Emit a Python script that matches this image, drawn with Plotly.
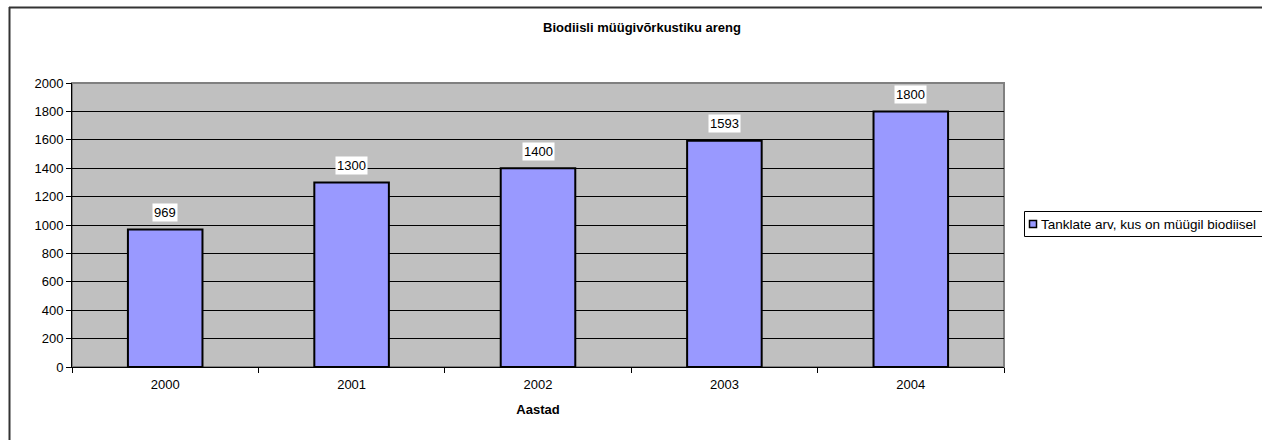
"""
Biodiisli müügivõrkustiku areng: tanklate arv aastate kaupa (tulpdiagramm).
"""
import plotly.graph_objects as go

YEARS = ['2000', '2001', '2002', '2003', '2004']
STATIONS = [969, 1300, 1400, 1593, 1800]
SERIES_NAME = 'Tanklate arv, kus on müügil biodiisel'
Y_TICKS = [0, 200, 400, 600, 800, 1000, 1200, 1400, 1600, 1800, 2000]

BAR_COLOR = '#9999FF'
W, H = 1262, 440
L, R, T, B = 72, 1004, 83, 367
FONT = 'Liberation Sans, Arial, sans-serif'
FS = 13


def px_x(p):
    return (p - L) / (R - L)


def px_y(p):
    return (B - p) / (B - T)


fig = go.Figure(go.Bar(
    x=YEARS, y=STATIONS,
    name=SERIES_NAME,
    width=0.4,
    marker=dict(color=BAR_COLOR, line=dict(color='black', width=2)),
    showlegend=False,
))

# data labels (white boxes above the bars)
for i, v in enumerate(STATIONS):
    fig.add_annotation(
        x=i, y=v, text=str(v), showarrow=False,
        yshift=17, bgcolor='white', borderpad=1,
        font=dict(family=FONT, size=FS, color='black'),
    )

# hand-made legend (Excel style: small square close to the text)
fig.add_annotation(
    xref='paper', yref='paper', x=px_x(1039), y=px_y(224),
    xanchor='left', yanchor='middle', showarrow=False,
    text=SERIES_NAME, font=dict(family=FONT, size=13.5, color='black'),
)

shapes = [
    # plot frame (gray top/right)
    dict(type='rect', xref='paper', yref='paper', x0=0, x1=1, y0=0, y1=1,
         line=dict(color='#808080', width=2), layer='below'),
    # outer chart border (top & left visible)
    dict(type='line', xref='paper', yref='paper',
         x0=px_x(9), x1=px_x(W + 5), y0=px_y(7.5), y1=px_y(7.5),
         line=dict(color='#333333', width=2)),
    dict(type='line', xref='paper', yref='paper',
         x0=px_x(9.5), x1=px_x(9.5), y0=px_y(7), y1=px_y(H + 5),
         line=dict(color='#333333', width=2)),
    # legend box and key
    dict(type='rect', xref='paper', yref='paper',
         x0=px_x(1024.5), x1=px_x(W + 5), y0=px_y(211.5), y1=px_y(236.5),
         line=dict(color='black', width=1), fillcolor='white'),
    dict(type='rect', xref='paper', yref='paper',
         x0=px_x(1029.5), x1=px_x(1036.5), y0=px_y(220.5), y1=px_y(227.5),
         line=dict(color='black', width=1.5), fillcolor=BAR_COLOR),
]

fig.update_layout(
    width=W, height=H,
    margin=dict(l=L, r=W - R, t=T, b=H - B, autoexpand=False),
    paper_bgcolor='white',
    plot_bgcolor='#C0C0C0',
    font=dict(family=FONT, size=FS, color='black'),
    title=dict(
        text='<b>Biodiisli müügivõrkustiku areng</b>',
        x=642 / W, xanchor='center', xref='container',
        y=1 - 27 / H, yanchor='middle', yref='container',
        font=dict(family=FONT, size=FS, color='black'),
    ),
    xaxis=dict(
        type='category', range=[-0.5, 4.5],
        title=dict(text='<b>Aastad</b>', standoff=14,
                   font=dict(family=FONT, size=FS)),
        tickson='boundaries', ticks='outside', ticklen=5, tickcolor='black',
        ticklabelstandoff=5,
        showline=True, linecolor='black', linewidth=1,
        showgrid=False, tickfont=dict(family=FONT, size=FS),
        tickangle=0,
    ),
    yaxis=dict(
        range=[0, 2000], tickvals=Y_TICKS,
        ticks='outside', ticklen=5, tickcolor='black',
        showline=True, linecolor='black', linewidth=1,
        showgrid=True, gridcolor='black', gridwidth=1,
        zeroline=False, tickfont=dict(family=FONT, size=FS),
    ),
    showlegend=False,
    shapes=shapes,
)

fig.write_html('out.html', config={'displayModeBar': False},
               post_script="document.body.style.margin='0';")
